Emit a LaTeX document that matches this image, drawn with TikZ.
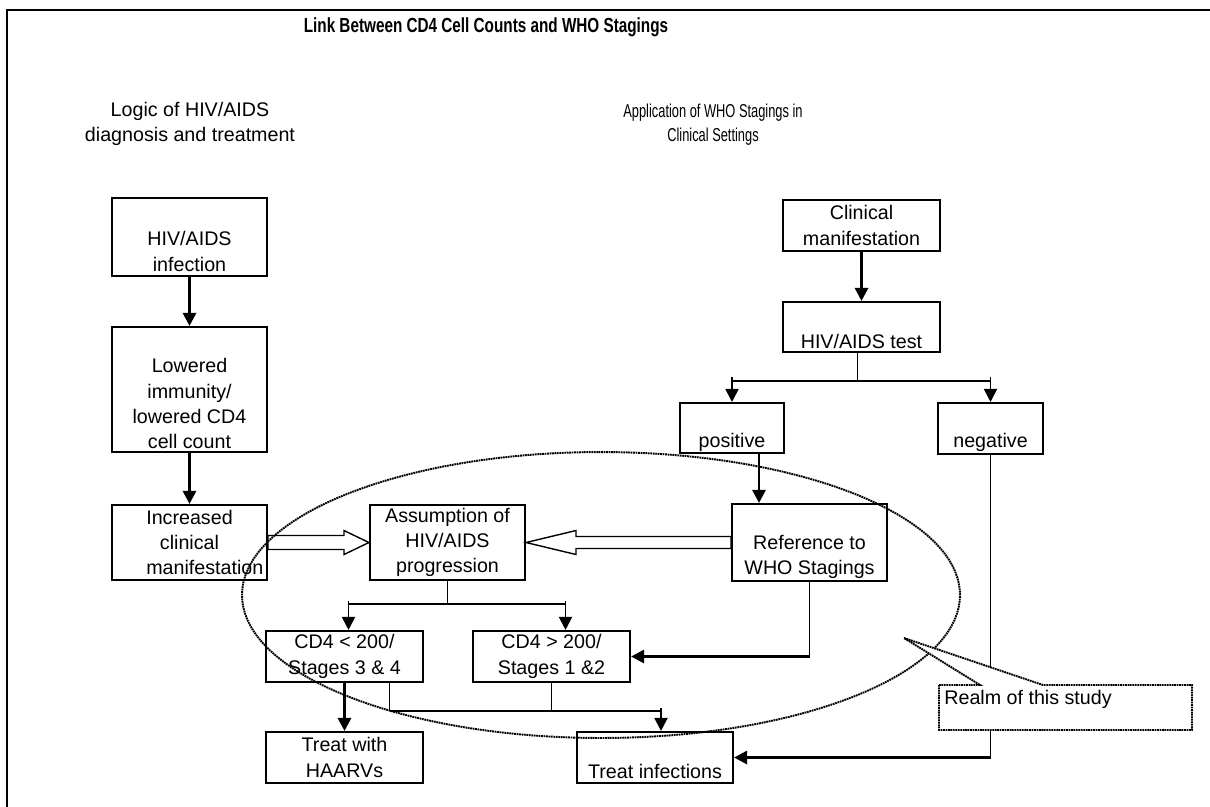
\documentclass[tikz,border=0pt]{standalone}
\usepackage{fontspec}
\setmainfont{Liberation Sans}
\usepackage{graphicx}
\usepackage{tikz}
\usetikzlibrary{arrows.meta,calc,positioning}

\begin{document}
\begin{tikzpicture}[x=0.02cm,y=-0.02cm,
    box/.style={draw,rectangle,line width=1.2pt,align=center,inner sep=0pt,font=\fontsize{11.2}{14.4}\selectfont},
    arr/.style={line width=1.6pt,-{Triangle[length=7.5pt,width=7.5pt]}},
    brarr/.style={line width=1.1pt,-{Triangle[length=7.5pt,width=7.5pt]}},
    thinline/.style={line width=0.7pt},
    hollow/.style={line width=0.8pt,fill=white},
    dots/.style={line width=1.1pt,dash pattern=on 1pt off 0.4pt}]
    \useasboundingbox (0,0) rectangle (1210,806);
    % frame and headings
    \draw[line width=0.9pt] (7,10) rectangle (1240,840);
    \node[font=\bfseries\fontsize{11.6}{14}\selectfont] (title) at (486,27) {\scalebox{0.75}[1]{Link Between CD4 Cell Counts and WHO Stagings}};
    \node[align=center,font=\fontsize{11.2}{14.4}\selectfont] (logic) at (190,124) {Logic of HIV/AIDS\\diagnosis and treatment};
    \node[align=center,font=\fontsize{10.6}{13.6}\selectfont] (appl) at (713,125) {\scalebox{0.69}[1]{Application of WHO Stagings in}\\\scalebox{0.69}[1]{Clinical Settings}};
    % left column
    \node[box,minimum width=3.1cm,minimum height=1.56cm] (inf) at (189.5,237) {\strut\\HIV/AIDS\\infection};
    \node[box,minimum width=3.1cm,minimum height=2.5cm] (low) at (189.5,389.5) {\strut\\Lowered\\immunity/\\lowered CD4\\cell count};
    \node[box,minimum width=3.1cm,minimum height=1.5cm] (incr) at (189.5,542.5) {Increased\\clinical\\\rlap{manifestation}\hphantom{Increased}};
    \node[box,minimum width=3.1cm,minimum height=1.5cm] (assum) at (447.5,542.5) {Assumption of\\HIV/AIDS\\progression};
    \node[box,minimum width=3.1cm,minimum height=1.54cm] (ref) at (809.5,542.5) {\strut\\Reference to\\WHO Stagings};
    % right column
    \node[box,minimum width=3.14cm,minimum height=1.02cm] (clin) at (861.5,225.5) {Clinical\\manifestation};
    \node[box,minimum width=3.14cm,minimum height=1.0cm] (test) at (861.5,327) {\strut\\HIV/AIDS test};
    \node[box,minimum width=2.08cm,minimum height=1.0cm] (pos) at (732,428) {\strut\\positive};
    \node[box,minimum width=2.1cm,minimum height=1.02cm] (neg) at (990.5,428.5) {\strut\\negative};
    % stages and treatment
    \node[box,minimum width=3.14cm,minimum height=1.02cm] (lt) at (344.5,656.5) {CD4 < 200/\\Stages 3 \& 4};
    \node[box,minimum width=3.14cm,minimum height=1.02cm] (gt) at (551.5,656.5) {CD4 > 200/\\Stages 1 \&2};
    \node[box,minimum width=3.14cm,minimum height=1.02cm] (haart) at (344.5,757.5) {Treat with\\HAARVs};
    \node[box,minimum width=3.12cm,minimum height=1.02cm] (tinf) at (655,757.5) {\strut\\Treat infections};
    % straight arrows
    \draw[arr] (inf) -- (low);
    \draw[arr] (low) -- (incr);
    \draw[arr] (clin) -- (test);
    \draw[arr] (lt) -- (haart);
    \coordinate (pr) at ([xshift=0.54cm]pos.south);
    \draw[arr] (pr) -- (pr |- ref.north);
    % test result branches
    \coordinate (ts) at ([xshift=-0.08cm]test.south);
    \draw[thinline] (ts) -- ++(0,28) coordinate (tj);
    \coordinate (tL) at (pos.north |- tj);
    \coordinate (tR) at (neg.north |- tj);
    \draw[thinline] (tL) -- (tR);
    \draw[brarr] ($(tL)+(0,-4)$) -- (pos.north);
    \draw[brarr] ($(tR)+(0,-4)$) -- (neg.north);
    % hollow arrows
    \draw[hollow] ($(incr.east)+(0,-7)$) -- ($(assum.west)+(-25,-7)$) -- ($(assum.west)+(-25,-12)$) -- (assum.west)
        -- ($(assum.west)+(-25,12)$) -- ($(assum.west)+(-25,7)$) -- ($(incr.east)+(0,7)$) -- cycle;
    \draw[hollow] ($(ref.west)+(0,-6)$) -- ($(assum.east)+(50,-6)$) -- ($(assum.east)+(50,-12)$) -- (assum.east)
        -- ($(assum.east)+(50,12)$) -- ($(assum.east)+(50,6)$) -- ($(ref.west)+(0,6)$) -- cycle;
    % progression branches
    \draw[thinline] (assum.south) -- ++(0,23) coordinate (aj);
    \coordinate (aL) at ($(lt.north |- aj)+(4,0)$);
    \coordinate (aR) at ($(gt.north |- aj)+(14,0)$);
    \draw[thinline] (aL) -- (aR);
    \draw[brarr] ($(aL)+(0,-3)$) -- (aL |- lt.north);
    \draw[brarr] ($(aR)+(0,-3)$) -- (aR |- gt.north);
    % reference and negative
    \coordinate (rc) at (ref.south |- gt.east);
    \draw[thinline] (ref.south) -- (rc);
    \draw[arr] (rc) -- (gt.east);
    \coordinate (nc) at (neg.south |- tinf.east);
    \draw[thinline] (neg.south) -- (nc);
    \draw[arr] (nc) -- (tinf.east);
    % to treat infections
    \coordinate (lb) at ($(lt.south)+(45,0)$);
    \draw[thinline] (lb) -- ++(0,28) coordinate (bj);
    \draw[thinline] (gt.south) -- (gt.south |- bj);
    \coordinate (tt) at ($(tinf.north)+(6,0)$);
    \coordinate (bR) at (tt |- bj);
    \draw[thinline] (bj) -- (bR);
    \draw[brarr] ($(bR)+(0,-3)$) -- (tt);
    % realm of this study
    \draw[dots] (601,595) ellipse [x radius=7.18cm, y radius=2.86cm];
    \coordinate (rnw) at (939,685);
    \coordinate (rtip) at (904,638);
    \draw[dots,fill=white] (rnw) -- ++(41,0) -- (rtip) -- ($(rnw)+(104,0)$) -- ++(149,0) -- ++(0,45) -- ++(-253,0) -- cycle;
    \node[anchor=north west,inner sep=0pt,font=\fontsize{11.2}{14.4}\selectfont] (realm) at ($(rnw)+(5,5)$) {Realm of this study};
\end{tikzpicture}
\end{document}
